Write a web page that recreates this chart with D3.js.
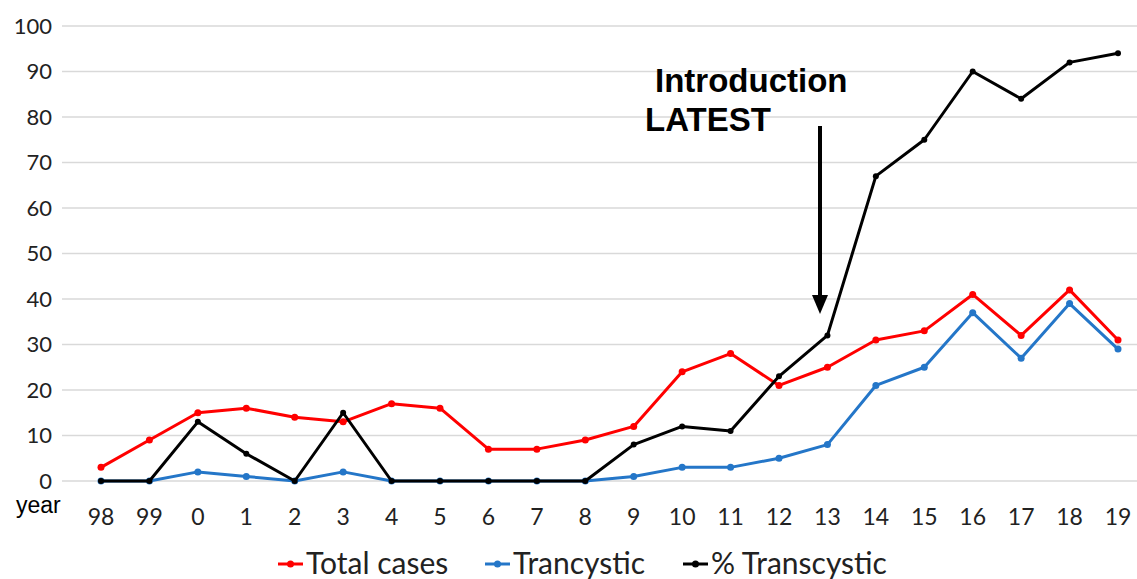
<!DOCTYPE html>
<html>
<head>
<meta charset="utf-8">
<script src="https://cdn.jsdelivr.net/npm/d3@7"></script>
<style>
  body { margin: 0; background: #fff; }
</style>
</head>
<body>
<div id="chart"></div>
<script>
const years = ["98","99","0","1","2","3","4","5","6","7","8","9","10","11","12","13","14","15","16","17","18","19"]
const totalCases = [3,9,15,16,14,13,17,16,7,7,9,12,24,28,21,25,31,33,41,32,42,31]
const trancystic = [0,0,2,1,0,2,0,0,0,0,0,1,3,3,5,8,21,25,37,27,39,29]
const pctTranscystic = [0,0,13,6,0,15,0,0,0,0,0,8,12,11,23,32,67,75,90,84,92,94]
const yTicks = [0,10,20,30,40,50,60,70,80,90,100]

const width = 1137
const height = 579

const svg = d3.select("#chart")
  .append("svg")
  .attr("width", width)
  .attr("height", height)
  .style("font-family", "Lato, 'Open Sans', sans-serif")

const x = d3.scalePoint()
  .domain(years)
  .range([101, 1118])

const y = d3.scaleLinear()
  .domain([0, 100])
  .range([481, 26])

// gridlines
svg.append("g")
  .selectAll("line")
  .data(yTicks)
  .join("line")
  .attr("x1", 62)
  .attr("x2", 1137)
  .attr("y1", d => y(d))
  .attr("y2", d => y(d))
  .attr("stroke", "#d9d9d9")
  .attr("stroke-width", 1.5)

// y labels
svg.append("g")
  .selectAll("text")
  .data(yTicks)
  .join("text")
  .attr("x", 52)
  .attr("y", d => y(d))
  .attr("dy", "0.35em")
  .attr("text-anchor", "end")
  .style("font-size", "22px")
  .style("fill", "#222")
  .text(d => d)

// x labels
svg.append("g")
  .selectAll("text")
  .data(years)
  .join("text")
  .attr("x", d => x(d))
  .attr("y", 517)
  .attr("dy", "0.35em")
  .attr("text-anchor", "middle")
  .style("font-size", "23px")
  .style("fill", "#222")
  .text(d => d)

svg.append("text")
  .attr("x", 16)
  .attr("y", 513)
  .style("font-size", "23px")
  .style("font-family", "'Liberation Sans', Arial, sans-serif")
  .style("fill", "#000")
  .text("year")

const series = [
  {name: "Total cases", values: totalCases, color: "#ff0000", r: 3.5},
  {name: "Trancystic", values: trancystic, color: "#2476c8", r: 3.5},
  {name: "% Transcystic", values: pctTranscystic, color: "#000000", r: 3}
]

const line = d3.line()
  .x((d, i) => x(years[i]))
  .y(d => y(d))

series.forEach(s => {
  const g = svg.append("g")
  g.append("path")
    .datum(s.values)
    .attr("d", line)
    .attr("fill", "none")
    .attr("stroke", s.color)
    .attr("stroke-width", 3)
    .attr("stroke-linejoin", "round")
  g.selectAll("circle")
    .data(s.values)
    .join("circle")
    .attr("cx", (d, i) => x(years[i]))
    .attr("cy", d => y(d))
    .attr("r", s.r)
    .attr("fill", s.color)
})

// annotation
const ann = svg.append("g")
  .style("font-family", "'Liberation Sans', Arial, sans-serif")
  .style("font-weight", "bold")
  .style("font-size", "33px")
ann.append("text").attr("x", 655).attr("y", 92).text("Introduction")
ann.append("text").attr("x", 645).attr("y", 131).text("LATEST")

svg.append("line")
  .attr("x1", 820).attr("x2", 820)
  .attr("y1", 126).attr("y2", 298)
  .attr("stroke", "#000")
  .attr("stroke-width", 4)
svg.append("path")
  .attr("d", "M812,295 L828,295 L820,314 Z")
  .attr("fill", "#000")

// legend
const legend = svg.append("g")
const legendX = [278, 485, 683]
series.forEach((s, i) => {
  const lg = legend.append("g").attr("transform", `translate(${legendX[i]},564)`)
  lg.append("line")
    .attr("x1", 0).attr("x2", 25)
    .attr("stroke", s.color)
    .attr("stroke-width", 3)
  lg.append("circle")
    .attr("cx", 12.5).attr("r", 3.5)
    .attr("fill", s.color)
  lg.append("text")
    .attr("x", 28)
    .attr("y", 10)
    .style("font-size", "30px")
    .style("fill", "#222")
    .text(s.name)
})
</script>
</body>
</html>
